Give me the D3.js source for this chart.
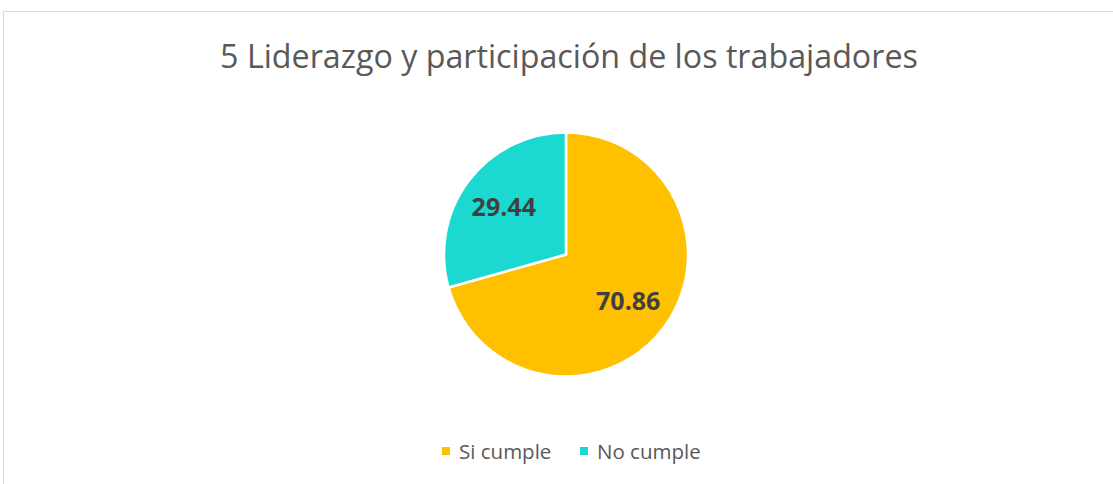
<!DOCTYPE html>
<html>
<head>
<meta charset="utf-8">
<script src="https://cdn.jsdelivr.net/npm/d3@7"></script>
<style>
  body { margin: 0; background: #fff; }
  svg { display: block; }
</style>
</head>
<body>
<div id="chart"></div>
<script>
// chart data
const title = "5 Liderazgo y participación de los trabajadores"
const categories = ["Si cumple", "No cumple"]
const values = [70.86, 29.44]
const colors = ["#FFC000", "#1BD9D1"]

const W = 1113, H = 484
const cx = 566, cy = 254.5, radius = 122

const svg = d3.select("#chart").append("svg")
    .attr("width", W)
    .attr("height", H)

// chart frame
svg.append("rect")
    .attr("x", 3.5).attr("y", 11.5)
    .attr("width", W + 10).attr("height", H + 10)
    .attr("fill", "none")
    .attr("stroke", "#D9D9D9")
    .attr("stroke-width", 1)

// title, sized to match the reference width
const t = svg.append("text")
    .attr("x", 569).attr("y", 68)
    .attr("text-anchor", "middle")
    .attr("font-family", "'Open Sans', sans-serif")
    .attr("font-size", 30)
    .attr("fill", "#595959")
    .text(title)
const tw = t.node().getComputedTextLength()
t.attr("font-size", 30 * 698 / tw)

// pie
const data = categories.map((c, i) => ({ name: c, value: values[i], color: colors[i] }))
const pie = d3.pie().sort(null).value(d => d.value)
const arc = d3.arc().innerRadius(0).outerRadius(radius)
const labelArc = d3.arc().innerRadius(radius * 0.64).outerRadius(radius * 0.64)

const g = svg.append("g").attr("transform", "translate(" + cx + "," + cy + ")")
const arcs = pie(data)

g.selectAll("path")
    .data(arcs)
    .enter().append("path")
    .attr("d", arc)
    .attr("fill", d => d.data.color)
    .attr("stroke", "#fff")
    .attr("stroke-width", 2.5)

g.selectAll("text.lbl")
    .data(arcs)
    .enter().append("text")
    .attr("class", "lbl")
    .attr("transform", d => "translate(" + labelArc.centroid(d) + ")")
    .attr("text-anchor", "middle")
    .attr("dy", "0.35em")
    .attr("font-family", "'Open Sans', sans-serif")
    .attr("font-weight", "bold")
    .attr("font-size", 25)
    .attr("fill", "#404040")
    .text(d => d.data.value.toFixed(2))

// legend
const legendX = [442, 580]
const lg = svg.append("g")
lg.selectAll("rect")
    .data(data)
    .enter().append("rect")
    .attr("x", (d, i) => legendX[i])
    .attr("y", 447)
    .attr("width", 8).attr("height", 8)
    .attr("fill", d => d.color)
lg.selectAll("text")
    .data(data)
    .enter().append("text")
    .attr("x", (d, i) => legendX[i] + 17)
    .attr("y", 459)
    .attr("font-family", "'Open Sans', sans-serif")
    .attr("font-size", 20.5)
    .attr("fill", "#595959")
    .text(d => d.name)
</script>
</body>
</html>
